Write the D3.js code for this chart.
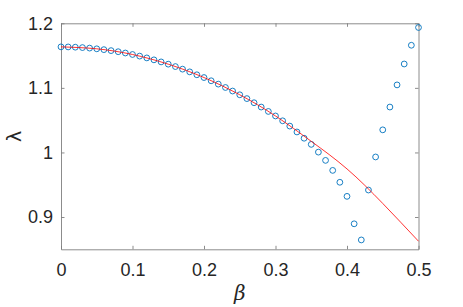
<!DOCTYPE html>
<html>
<head>
<meta charset="utf-8">
<script src="https://cdn.jsdelivr.net/npm/d3@7"></script>
<style>
  body { margin: 0; background: #fff; }
  svg { display: block; }
</style>
</head>
<body>
<div id="chart"></div>
<script>
// beta values of the sampled points
const betaPoints = [0, 0.01, 0.02, 0.03, 0.04, 0.05, 0.06, 0.07, 0.08, 0.09,
    0.10, 0.11, 0.12, 0.13, 0.14, 0.15, 0.16, 0.17, 0.18, 0.19,
    0.20, 0.21, 0.22, 0.23, 0.24, 0.25, 0.26, 0.27, 0.28, 0.29,
    0.30, 0.31, 0.32, 0.33, 0.34, 0.35, 0.36, 0.37, 0.38, 0.39,
    0.40, 0.41, 0.42, 0.43, 0.44, 0.45, 0.46, 0.47, 0.48, 0.49, 0.50];
// lambda
const lambdaPoints = [1.1635, 1.1634, 1.1630, 1.1624, 1.1616, 1.1605, 1.1592, 1.1577, 1.1560, 1.1540,
    1.1517, 1.1492, 1.1464, 1.1434, 1.1402, 1.1367, 1.1330, 1.1290, 1.1248, 1.1203,
    1.1160, 1.1110, 1.1058, 1.1006, 1.0951, 1.0893, 1.0834, 1.0770, 1.0703, 1.0635,
    1.0565, 1.0490, 1.0408, 1.0317, 1.0220, 1.0125, 1.0005, 0.9877, 0.9722, 0.9538,
    0.9320, 0.8895, 0.8645, 0.9418, 0.9930, 1.0350, 1.0703, 1.1046, 1.1370, 1.1660, 1.1935];

// red reference curve
const betaCurve = [0, 0.05, 0.10, 0.15, 0.20, 0.25, 0.30, 0.35, 0.40, 0.45, 0.50];
const lambdaCurve = [1.1635, 1.1605, 1.1517, 1.1367, 1.1160, 1.0893, 1.0565, 1.0172, 0.9745, 0.9210, 0.8625];

const xTicks = [0, 0.1, 0.2, 0.3, 0.4, 0.5];
const yTicks = [0.9, 1, 1.1, 1.2];

const width = 463, height = 307;
const margin = { left: 61, right: 463 - 418.5, top: 23.3, bottom: 307 - 249.3 };
const tickFont = "'Liberation Sans', Arial, Helvetica, sans-serif";
const axisColor = "#7f7f7f";

const svg = d3.select("#chart").append("svg")
    .attr("width", width)
    .attr("height", height);

const x = d3.scaleLinear().domain([0, 0.5]).range([margin.left, width - margin.right]);
const y = d3.scaleLinear().domain([0.85, 1.2]).range([height - margin.bottom, margin.top]);

//Axes with inward ticks on all four sides (box on)
const tickLen = 3.5;
const drawAxis = (axis, transform) => {
    const g = svg.append("g").attr("transform", transform).call(axis);
    g.select(".domain").attr("stroke", axisColor).attr("stroke-width", 0.9);
    g.selectAll(".tick line").attr("stroke", axisColor).attr("stroke-width", 0.9);
    g.selectAll(".tick text")
        .attr("fill", "#262626")
        .attr("font-family", tickFont)
        .attr("font-size", "18px");
    return g;
};

const fmt = d => d3.format("")(+d.toFixed(1));

drawAxis(d3.axisBottom(x).tickValues(xTicks).tickSize(-tickLen).tickSizeOuter(0).tickPadding(14).tickFormat(fmt),
    `translate(0,${y.range()[0]})`);
drawAxis(d3.axisTop(x).tickValues(xTicks).tickSize(-tickLen).tickSizeOuter(0).tickFormat(""),
    `translate(0,${y.range()[1]})`);
drawAxis(d3.axisLeft(y).tickValues(yTicks).tickSize(-tickLen).tickSizeOuter(0).tickPadding(8).tickFormat(fmt),
    `translate(${x.range()[0]},0)`);
drawAxis(d3.axisRight(y).tickValues(yTicks).tickSize(-tickLen).tickSizeOuter(0).tickFormat(""),
    `translate(${x.range()[1]},0)`);

//Blue circle markers
svg.append("g")
    .selectAll("circle")
    .data(betaPoints.map((b, i) => [b, lambdaPoints[i]]))
    .enter()
    .append("circle")
    .attr("cx", d => x(d[0]))
    .attr("cy", d => y(d[1]))
    .attr("r", 2.9)
    .attr("fill", "none")
    .attr("stroke", "#0072bd")
    .attr("stroke-width", 0.9);

//Red curve on top
const line = d3.line()
    .x(d => x(d[0]))
    .y(d => y(d[1]))
    .curve(d3.curveNatural);

svg.append("path")
    .datum(betaCurve.map((b, i) => [b, lambdaCurve[i]]))
    .attr("d", line)
    .attr("fill", "none")
    .attr("stroke", "#ff0000")
    .attr("stroke-width", 0.8);

//Axis labels
svg.append("text")
    .attr("x", (x.range()[0] + x.range()[1]) / 2)
    .attr("y", 300)
    .attr("text-anchor", "middle")
    .attr("font-family", "'DejaVu Serif', serif")
    .attr("font-style", "italic")
    .attr("font-size", "20px")
    .attr("fill", "#262626")
    .text("β");

svg.append("text")
    .attr("transform", `translate(21,${(y.range()[0] + y.range()[1]) / 2}) rotate(-90)`)
    .attr("text-anchor", "middle")
    .attr("font-family", "'DejaVu Sans', sans-serif")
    .attr("font-size", "19px")
    .attr("fill", "#262626")
    .text("λ");
</script>
</body>
</html>
